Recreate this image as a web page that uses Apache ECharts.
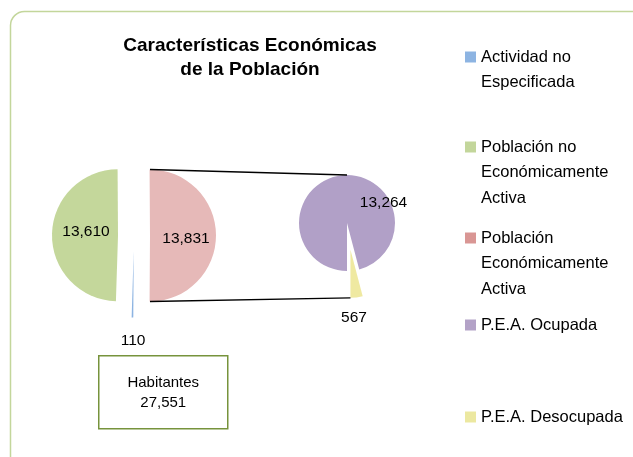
<!DOCTYPE html>
<html>
<head>
<meta charset="utf-8" />
<title>Características Económicas de la Población</title>
<script src="https://cdn.jsdelivr.net/npm/echarts@6/dist/echarts.min.js"></script>
</head>
<body style="margin:0">
<div id="main" style="width:633px;height:457px;"></div>
<script type="text/javascript">
// datos del pastel principal
var categorias = ['Actividad no Especificada', 'Población no Económicamente Activa', 'Población Económicamente Activa'];
var valores = [110, 13610, 13831];
// desglose de la P.E.A. (pastel secundario)
var categoriasPEA = ['P.E.A. Ocupada', 'P.E.A. Desocupada'];
var valoresPEA = [13264, 567];
// textos de la leyenda (con saltos de linea como en el original)
var textosLeyenda = ['Actividad no\nEspecificada', 'Población no\nEconómicamente\nActiva', 'Población\nEconómicamente\nActiva', 'P.E.A. Ocupada', 'P.E.A. Desocupada'];

var colores = ['#8db4e2', '#c4d79b', '#e6b9b8'];
var coloresPEA = ['#b1a0c7', '#efe9a1'];
var coloresLeyenda = ['#8db4e2', '#c3d69b', '#d99694', '#b3a2c7', '#ece8a0'];
var fuente = 'Liberation Sans, Arial, sans-serif';

function fmt(v) { return v.toLocaleString('en-US'); }
function suma(a) { return a.reduce(function (s, v) { return s + v; }, 0); }

var total = suma(valores);
var totalPEA = suma(valoresPEA);

// geometria de los pasteles
var c1 = [134, 235.5], r1 = 66, off1 = 16;
var c2 = [347, 223], r2 = 48, off2 = 27;
// el sector "otro" (P.E.A.) centrado a la derecha
var angRojo = 360 * valores[2] / total;
var inicio1 = 360 - angRojo / 2;
var inicio2 = 270;
var medioAmarillo = (270 - 360 + 360 * valoresPEA[1] / totalPEA / 2) * Math.PI / 180;

var myChart = echarts.init(document.getElementById('main'));

// una leyenda por serie para que los iconos queden a la altura de la primera linea
var iconY = [57, 147, 238, 325, 417];
var lh = 25.5;
var leyendas = [];
var nombres = categorias.concat(categoriasPEA);
nombres.forEach(function (n, i) {
  var nl = textosLeyenda[i].split('\n').length;
  var relleno = new Array(nl).join('\n');
  leyendas.push({
    orient: 'vertical',
    left: 465,
    top: iconY[i] - (2 * nl - 1) * lh / 2,
    padding: 0,
    itemWidth: 11,
    itemHeight: 11,
    icon: 'rect',
    selectedMode: false,
    data: [{ name: n, itemStyle: { color: coloresLeyenda[i] } }],
    formatter: function () { return relleno + textosLeyenda[i]; },
    textStyle: { fontFamily: fuente, fontSize: 16.5, lineHeight: lh, color: '#000' }
  });
});

var ySup1 = c1[1] - r1, yInf1 = c1[1] + r1;
var xRojo = c1[0] + off1;
var pInf2 = [c2[0] + off2 * Math.cos(medioAmarillo), c2[1] + r2 - off2 * Math.sin(medioAmarillo)];

var option = {
  animation: false,
  title: {
    text: 'Características Económicas\nde la Población',
    left: 250,
    top: 34,
    padding: 0,
    textAlign: 'center',
    textStyle: { fontFamily: fuente, fontWeight: 'bold', fontSize: 19, lineHeight: 24, color: '#000' }
  },
  legend: leyendas,
  graphic: [
    {
      type: 'rect', left: 8, top: 9, silent: true,
      shape: { width: 660, height: 470, r: 14 },
      style: { fill: 'none', stroke: '#c3d69b', lineWidth: 1.5 }
    },
    {
      type: 'line', silent: true, z: 10,
      shape: { x1: xRojo, y1: ySup1, x2: c2[0], y2: c2[1] - r2 },
      style: { stroke: '#000', lineWidth: 1.3 }
    },
    {
      type: 'line', silent: true, z: 10,
      shape: { x1: xRojo, y1: yInf1, x2: pInf2[0], y2: pInf2[1] },
      style: { stroke: '#000', lineWidth: 1.3 }
    },
    {
      type: 'group', left: 98, top: 355,
      children: [
        {
          type: 'rect',
          shape: { x: 0, y: 0, width: 129, height: 73 },
          style: { fill: '#fff', stroke: '#77933c', lineWidth: 1.5 }
        },
        {
          type: 'text', x: 64.5, y: 37,
          style: {
            text: 'Habitantes\n' + fmt(total), align: 'center', verticalAlign: 'middle',
            font: '15px ' + fuente, lineHeight: 20, fill: '#000'
          }
        }
      ]
    }
  ],
  series: [
    {
      type: 'pie',
      center: c1,
      radius: r1,
      startAngle: inicio1,
      selectedMode: 'multiple',
      selectedOffset: off1,
      emphasis: { disabled: true },
      label: {
        position: 'inside', fontFamily: fuente, fontSize: 15.5, color: '#000',
        formatter: function (p) { return fmt(p.value); }
      },
      labelLine: { show: false },
      labelLayout: function (p) {
        if (p.dataIndex === 0) return { dy: 53 };
        if (p.dataIndex === 2) return { dy: 3 };
        return { dy: -3, dx: 4 };
      },
      itemStyle: { borderWidth: 0 },
      data: categorias.map(function (n, i) {
        return { name: n, value: valores[i], selected: true, itemStyle: { color: colores[i] } };
      })
    },
    {
      type: 'pie',
      center: c2,
      radius: r2,
      startAngle: inicio2,
      selectedMode: 'multiple',
      selectedOffset: off2,
      emphasis: { disabled: true },
      label: {
        position: 'inside', fontFamily: fuente, fontSize: 15.5, color: '#000',
        formatter: function (p) { return fmt(p.value); }
      },
      labelLine: { show: false },
      labelLayout: function (p) {
        if (p.dataIndex === 0) return { dx: 40, dy: 6 };
        return { dy: 41 };
      },
      data: categoriasPEA.map(function (n, i) {
        return { name: n, value: valoresPEA[i], selected: i === 1, itemStyle: { color: coloresPEA[i] } };
      })
    }
  ]
};

myChart.setOption(option);
window.onresize = function () { myChart.resize(); };
</script>
</body>
</html>
